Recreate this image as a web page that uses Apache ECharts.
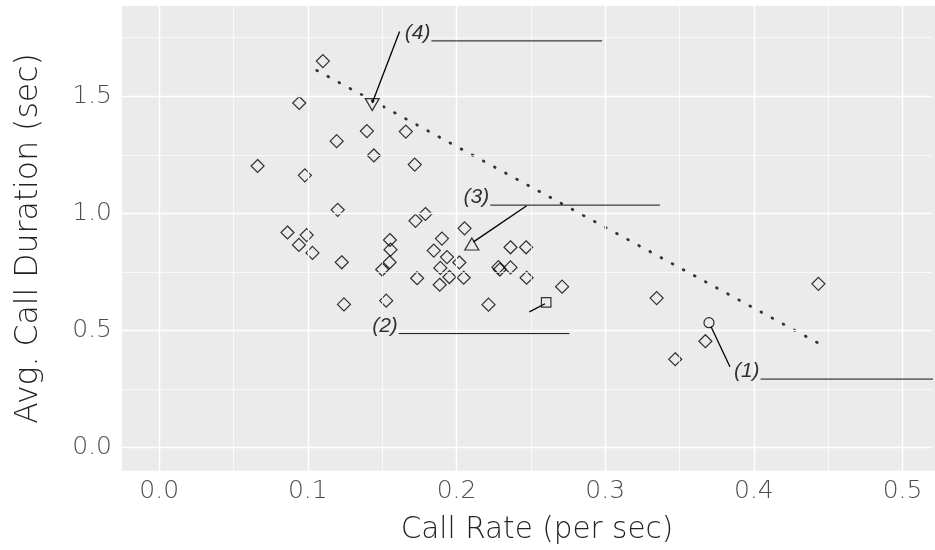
<!DOCTYPE html>
<html>
<head>
<meta charset="utf-8">
<script src="https://cdn.jsdelivr.net/npm/echarts@6/dist/echarts.min.js"></script>
<style>html,body{margin:0;padding:0;background:#fff}#c{width:935px;height:550px}</style>
</head>
<body>
<div id="c"></div>
<script>
// ---- data ----
const callRate = [0.1101,0.0942,0.0662,0.0980,0.1194,0.1397,0.1659,0.1444,0.1719,0.1201,
  0.0863,0.0992,0.0940,0.1031,0.1228,0.1243,0.1724,0.1791,0.2054,0.1552,
  0.1556,0.1550,0.1500,0.1902,0.1847,0.1936,0.1891,0.2019,0.1735,0.1952,
  0.2048,0.1887,0.2363,0.2468,0.2282,0.2291,0.2363,0.2471,0.2710,0.1527,
  0.2215,0.3346,0.3674,0.3471,0.4434];
const callDuration = [1.650,1.471,1.202,1.162,1.308,1.351,1.349,1.247,1.208,1.015,
  0.918,0.907,0.865,0.831,0.791,0.611,0.968,0.997,0.936,0.886,
  0.845,0.791,0.760,0.892,0.841,0.813,0.767,0.790,0.723,0.728,
  0.725,0.695,0.855,0.855,0.770,0.760,0.769,0.725,0.687,0.627,
  0.610,0.638,0.454,0.377,0.699];

// highlighted points (1)..(4)
const annLabels = ['(1)','(2)','(3)','(4)'];
const annX = [0.3698,0.2603,0.2103,0.1433];
const annY = [0.533,0.620,0.869,1.464];
const annShape = ['circle','rect','triangle','triangleDown'];
// leader segments
const segX0 = [0.3712,0.2595,0.2114,0.1433];
const segY0 = [0.516,0.614,0.878,1.471];
const segX1 = [0.3839,0.2490,0.2472,0.1617];
const segY1 = [0.345,0.579,1.032,1.776];
// underline under each label
const lineX0 = [0.4045,0.1612,0.2227,0.1831];
const lineX1 = [0.5300,0.2759,0.3368,0.2979];
const lineY  = [0.2924,0.4866,1.035,1.736];

// trend (dotted)
const trendX = [0.1060,0.4427];
const trendY = [1.610,0.448];

// axes / ticks
const xTicks = [0,0.1,0.2,0.3,0.4,0.5];
const xMinorTicks = [0.05,0.15,0.25,0.35,0.45];
const yTicks = [0,0.5,1.0,1.5];
const yMinorTicks = [0.25,0.75,1.25,1.75];
const xTitle = 'Call Rate (per sec)';
const yTitle = 'Avg. Call Duration (sec)';

// ---- chart ----
const FONT = 'DejaVu Sans';
const chart = echarts.init(document.getElementById('c'), null, {renderer:'canvas'});
const isMult = (v, step) => Math.abs(v/step - Math.round(v/step)) < 1e-6;

const gridLines = [];
xTicks.forEach(v => gridLines.push({xAxis:v, lineStyle:{color:'#fff', width:1.4, type:'solid'}}));
xMinorTicks.forEach(v => gridLines.push({xAxis:v, lineStyle:{color:'#fff', width:0.7, type:'solid'}}));
yTicks.forEach(v => gridLines.push({yAxis:v, lineStyle:{color:'#fff', width:1.4, type:'solid'}}));
yMinorTicks.forEach(v => gridLines.push({yAxis:v, lineStyle:{color:'#fff', width:0.7, type:'solid'}}));

const series = [];
series.push({
  type:'line', data:[], z:1, silent:true,
  markLine:{silent:true, symbol:['none','none'], label:{show:false}, animation:false, data:gridLines}
});
series.push({
  type:'line', z:3, silent:true, showSymbol:false, symbol:'none',
  data: trendX.map((x,i)=>[x,trendY[i]]),
  lineStyle:{color:'#333', width:2.8, type:[0.8,11.84], cap:'round'}
});
series.push({
  type:'scatter', z:4, symbol:'diamond', symbolSize:13,
  data: callRate.map((x,i)=>[x,callDuration[i]]),
  itemStyle:{color:'rgba(0,0,0,0)', borderColor:'#000', borderWidth:1.2}
});
const shapeCfg = {
  circle:{symbol:'circle', size:10, rot:0},
  rect:{symbol:'rect', size:9.5, rot:0},
  triangle:{symbol:'triangle', size:[14,12], rot:0},
  triangleDown:{symbol:'triangle', size:[14,12], rot:180}
};
annLabels.forEach((lab,i)=>{
  const s = shapeCfg[annShape[i]];
  series.push({
    type:'scatter', z:4, symbol:s.symbol, symbolSize:s.size, symbolRotate:s.rot,
    data:[[annX[i],annY[i]]],
    itemStyle:{color:'rgba(0,0,0,0)', borderColor:'#000', borderWidth:1.2}
  });
  series.push({
    type:'line', z:5, silent:true, showSymbol:false, symbol:'none',
    data:[[segX0[i],segY0[i]],[segX1[i],segY1[i]]],
    lineStyle:{color:'#000', width:1.3}
  });
  series.push({
    type:'line', z:5, silent:true, showSymbol:false, symbol:'none',
    data:[[lineX0[i],lineY[i]],[lineX1[i],lineY[i]]],
    lineStyle:{color:'#111', width:1}
  });
  series.push({
    type:'scatter', z:6, silent:true, symbolSize:0,
    data:[{value:[lineX0[i],lineY[i]], name:lab}],
    label:{show:true, formatter:'{b}', position:[0,0], align:'right', verticalAlign:'bottom',
      offset:[-1,3], fontFamily:'Liberation Sans', fontStyle:'italic', fontSize:21, color:'#000'}
  });
});

chart.setOption({
  animation:false,
  backgroundColor:'#fff',
  graphic:[{type:'rect', z:-10, silent:true, shape:{x:122, y:6, width:813, height:464.7}, style:{fill:'#EBEBEB'}}],
  grid:{left:122, right:0, top:6, bottom:77, containLabel:false},
  xAxis:{
    type:'value', min:-0.025, max:0.5198, interval:0.025,
    axisLine:{show:false}, axisTick:{show:false}, splitLine:{show:false},
    axisLabel:{margin:8, fontFamily:FONT, fontWeight:200, fontSize:25, color:'#4d4d4d',
      formatter:v => isMult(v,0.1) && v > -1e-9 ? v.toFixed(1) : ''},
    name:xTitle, nameLocation:'middle', nameGap:44,
    nameTextStyle:{fontFamily:FONT, fontWeight:200, fontSize:29.5, color:'#222', padding:[0,0,0,20]}
  },
  yAxis:{
    type:'value', min:-0.1, max:1.885, interval:0.1,
    axisLine:{show:false}, axisTick:{show:false}, splitLine:{show:false},
    axisLabel:{margin:10, fontFamily:FONT, fontWeight:200, fontSize:25, color:'#4d4d4d',
      formatter:v => isMult(v,0.5) && v > -1e-9 ? v.toFixed(1) : ''},
    name:yTitle, nameLocation:'middle', nameGap:77,
    nameTextStyle:{fontFamily:FONT, fontWeight:200, fontSize:31.5, color:'#222'}
  },
  series
});
</script>
</body>
</html>
